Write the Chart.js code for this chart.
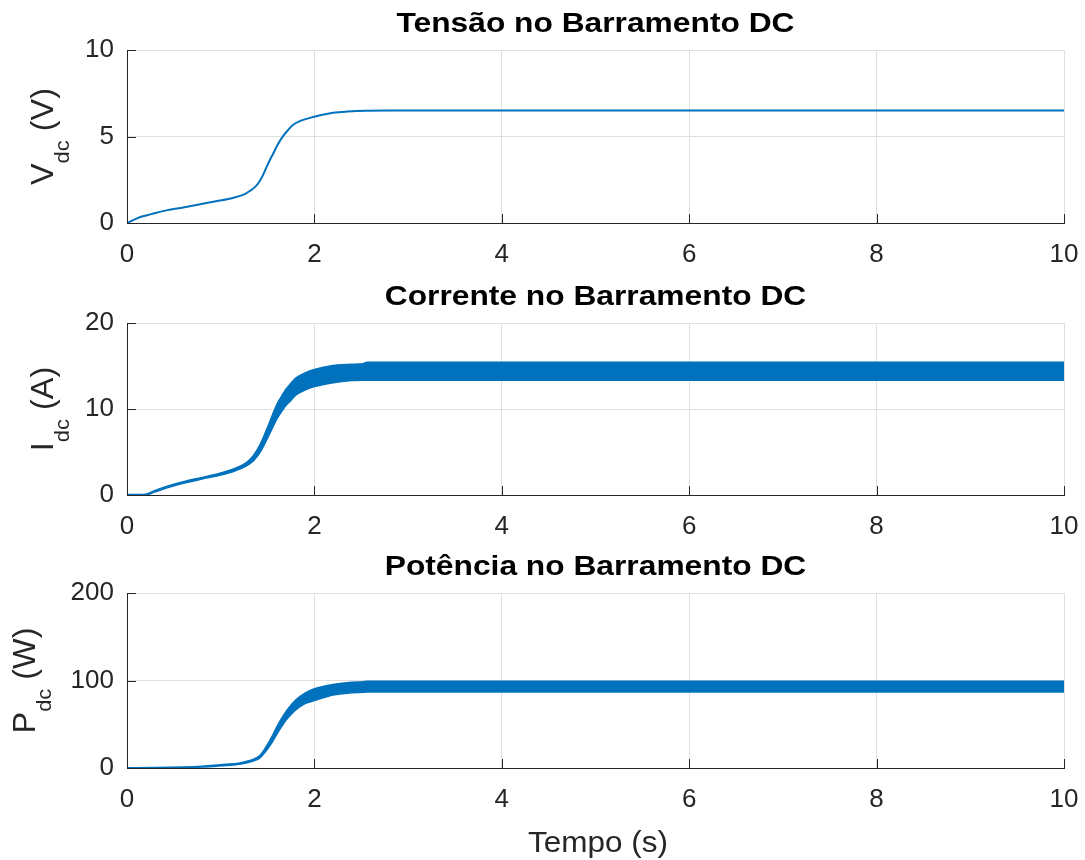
<!DOCTYPE html>
<html><head><meta charset="utf-8">
<script src="https://cdn.jsdelivr.net/npm/chart.js@4"></script>
<style>
html,body{margin:0;padding:0;background:#fff;width:1085px;height:860px;overflow:hidden}
.box{position:absolute;left:0;width:1085px}
canvas{display:block}
</style></head><body>
<div class="box" style="top:0;height:275px"><canvas id="c1" width="1085" height="275"></canvas></div>
<div class="box" style="top:275px;height:275px"><canvas id="c2" width="1085" height="275"></canvas></div>
<div class="box" style="top:550px;height:310px"><canvas id="c3" width="1085" height="310"></canvas></div>
<script>
// ---- data ----
const xTicks = [0, 2, 4, 6, 8, 10];
const vTicks = [0, 5, 10];
const iTicks = [0, 10, 20];
const pTicks = [0, 100, 200];

const titles = ["Tensão no Barramento DC", "Corrente no Barramento DC", "Potência no Barramento DC"];
const yLabels = [["V", "dc", " (V)"], ["I", "dc", " (A)"], ["P", "dc", " (W)"]];
const xLabel = "Tempo (s)";

const timeV = [0, 0.05, 0.1, 0.17, 0.25, 0.42, 0.6, 0.78, 0.95, 1.13, 1.25, 1.31, 1.37, 1.41, 1.45, 1.49, 1.53, 1.56, 1.6, 1.66, 1.72, 1.77, 1.85, 2.0, 2.1, 2.2, 2.35, 2.55, 2.8, 4, 6, 8, 10];
const vdc   = [0, 0.12, 0.25, 0.39, 0.5, 0.73, 0.9, 1.08, 1.26, 1.45, 1.65, 1.85, 2.1, 2.37, 2.75, 3.24, 3.7, 4.0, 4.45, 4.98, 5.38, 5.66, 5.9, 6.14, 6.27, 6.37, 6.44, 6.49, 6.5, 6.5, 6.5, 6.5, 6.5];

const timeI    = [0, 0.1, 0.2, 0.3, 0.42, 0.6, 0.8, 1.0, 1.15, 1.27, 1.35, 1.42, 1.49, 1.55, 1.6, 1.65, 1.7, 1.75, 1.8, 1.9, 2.0, 2.2, 2.4, 2.52, 2.56, 3, 10];
const idcUpper = [0.05, 0.05, 0.1, 0.53, 1.0, 1.55, 2.05, 2.57, 3.1, 3.75, 4.6, 5.85, 7.6, 9.25, 10.55, 11.5, 12.35, 13.0, 13.6, 14.2, 14.6, 15.05, 15.2, 15.25, 15.45, 15.45, 15.45];
const idcLower = [0, 0, 0, 0.37, 0.8, 1.35, 1.85, 2.33, 2.8, 3.35, 4.0, 4.95, 6.4, 7.75, 8.85, 9.7, 10.45, 11.0, 11.6, 12.2, 12.6, 13.05, 13.3, 13.35, 13.35, 13.35, 13.35];

const timeP    = [0, 0.3, 0.6, 0.8, 1.0, 1.2, 1.35, 1.42, 1.49, 1.55, 1.6, 1.65, 1.7, 1.75, 1.8, 1.9, 2.0, 2.2, 2.4, 2.52, 2.56, 3, 10];
const pdcUpper = [0.3, 0.5, 1.2, 2.1, 3.7, 5.8, 10, 14.5, 25.2, 36.5, 47.2, 56.7, 65, 71.8, 77.7, 85.5, 90.5, 95.5, 98, 98.5, 99.2, 99.2, 99.2];
const pdcLower = [0, 0, 0.4, 1.1, 2.5, 4.2, 8, 11.5, 20.2, 29.5, 38.8, 47.3, 55, 61.2, 66.3, 73.5, 77, 83.5, 86, 86.5, 86.8, 86.8, 86.8];

// ---- styling ----
const BLUE = '#0072BD';
const AXIS = '#262626';
const GRID = '#dfdfdf';
const FAMILY = '"Liberation Sans", Arial, Helvetica, sans-serif';

const pts = (xs, ys) => xs.map((x, i) => ({x: x, y: ys[i]}));

const decor = {
  id: 'decor',
  afterDraw(chart, args, o) {
    const ctx = chart.ctx, a = chart.chartArea;
    const xs = chart.scales.x, ys = chart.scales.y;
    ctx.save();
    // inward ticks (left and bottom only)
    ctx.strokeStyle = AXIS; ctx.lineWidth = 1;
    ctx.beginPath();
    xs.ticks.forEach(t => { const px = Math.round(xs.getPixelForValue(t.value)) + 0.5; ctx.moveTo(px, a.bottom); ctx.lineTo(px, a.bottom - 9); });
    ys.ticks.forEach(t => { const py = Math.round(ys.getPixelForValue(t.value)) + 0.5; ctx.moveTo(a.left, py); ctx.lineTo(a.left + 9, py); });
    ctx.stroke();
    ctx.fillStyle = '#000';
    // title, stretched to match reference width
    ctx.font = 'bold 27px ' + FAMILY;
    const sx = 398 / ctx.measureText(titles[0]).width;
    const tw = ctx.measureText(o.title).width;
    ctx.save();
    ctx.translate((a.left + a.right) / 2, a.top - 18);
    ctx.scale(sx, 1);
    ctx.textBaseline = 'alphabetic';
    ctx.fillText(o.title, -tw / 2, 0);
    ctx.restore();
    // y label with subscript
    ctx.fillStyle = AXIS;
    const mainF = '31px ' + FAMILY, subF = '21px ' + FAMILY;
    ctx.font = mainF; const w1 = ctx.measureText(o.ylab[0]).width; const w3 = ctx.measureText(o.ylab[2]).width;
    ctx.font = subF; const w2 = ctx.measureText(o.ylab[1]).width;
    const total = w1 + w2 + w3;
    ctx.save();
    ctx.translate(o.ylabX, (a.top + a.bottom) / 2);
    ctx.rotate(-Math.PI / 2);
    ctx.scale(1.045, 1);
    ctx.textBaseline = 'alphabetic';
    let x = -total / 2;
    ctx.font = mainF; ctx.fillText(o.ylab[0], x, 0); x += w1;
    ctx.font = subF; ctx.fillText(o.ylab[1], x, 16); x += w2;
    ctx.font = mainF; ctx.fillText(o.ylab[2], x, 0);
    ctx.restore();
    // x label
    if (o.xlab) {
      ctx.font = '29px ' + FAMILY;
      const xw = ctx.measureText(o.xlab).width;
      ctx.save();
      ctx.translate(598, a.bottom + 84);
      ctx.scale(140 / xw, 1);
      ctx.fillText(o.xlab, -xw / 2, 0);
      ctx.restore();
    }
    ctx.restore();
  }
};

function makeChart(id, datasets, yTicks, padTop, padBottom, decorOpts) {
  return new Chart(document.getElementById(id), {
    type: 'line',
    data: {datasets: datasets},
    plugins: [decor],
    options: {
      responsive: false, animation: false, devicePixelRatio: 1,
      layout: {padding: {top: padTop, bottom: padBottom, left: 0, right: 21}},
      plugins: {legend: {display: false}, tooltip: {enabled: false}, decor: decorOpts},
      elements: {point: {radius: 0}},
      scales: {
        x: {
          type: 'linear', min: xTicks[0], max: xTicks[xTicks.length - 1],
          afterBuildTicks: s => { s.ticks = xTicks.map(v => ({value: v})); },
          ticks: {font: {family: FAMILY, size: 26}, color: AXIS, padding: 16, maxRotation: 0, autoSkip: false},
          grid: {color: GRID, drawTicks: false},
          border: {color: AXIS, width: 1},
          afterFit: s => { s.height = 50; s.paddingLeft = 0; s.paddingRight = 0; }
        },
        y: {
          type: 'linear', min: yTicks[0], max: yTicks[yTicks.length - 1],
          afterBuildTicks: s => { s.ticks = yTicks.map(v => ({value: v})); },
          ticks: {font: {family: FAMILY, size: 26}, color: AXIS, padding: 13, autoSkip: false},
          grid: {color: GRID, drawTicks: false},
          border: {color: AXIS, width: 1},
          afterFit: s => { s.width = 127; s.paddingTop = 0; s.paddingBottom = 0; }
        }
      }
    }
  });
}

const lineDS = (data, extra) => Object.assign({data: data, borderColor: BLUE, borderWidth: 1.5, cubicInterpolationMode: 'monotone', fill: false, pointRadius: 0}, extra || {});

makeChart('c1', [lineDS(pts(timeV, vdc), {borderWidth: 2})], vTicks, 50, 2,
  {title: titles[0], ylab: yLabels[0], ylabX: 53});
makeChart('c2', [
  lineDS(pts(timeI, idcUpper)),
  lineDS(pts(timeI, idcLower), {fill: '-1', backgroundColor: BLUE})
], iTicks, 48, 5, {title: titles[1], ylab: yLabels[1], ylabX: 53});
makeChart('c3', [
  lineDS(pts(timeP, pdcUpper)),
  lineDS(pts(timeP, pdcLower), {fill: '-1', backgroundColor: BLUE})
], pTicks, 43, 42, {title: titles[2], ylab: yLabels[2], ylabX: 35, xlab: xLabel});
</script>
</body></html>
